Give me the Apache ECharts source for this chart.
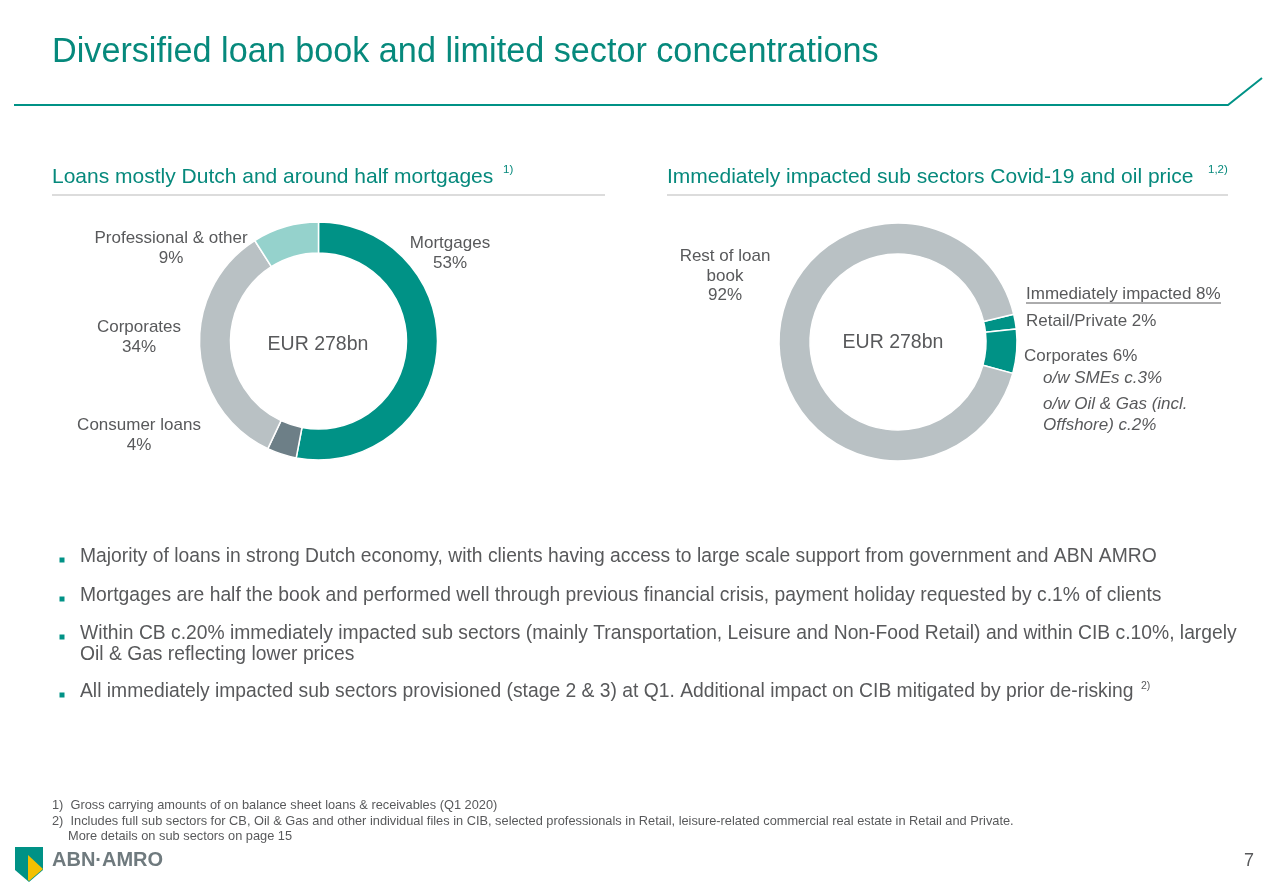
<!DOCTYPE html>
<html>
<head>
<meta charset="utf-8">
<script src="https://cdn.jsdelivr.net/npm/echarts@6/dist/echarts.min.js"></script>
<style>
html,body{margin:0;padding:0;background:#fff;}
#chart{width:1279px;height:886px;}
</style>
</head>
<body>
<div id="chart"></div>
<script>
// ---- data ----
const leftCategories = ['Mortgages', 'Consumer loans', 'Corporates', 'Professional & other'];
const leftValues = [53, 4, 34, 9];
const rightCategories = ['Retail/Private', 'Corporates', 'Rest of loan book'];
const rightValues = [2, 6, 92];
const totalLabel = 'EUR 278bn';
const impactedLabel = 'Immediately impacted 8%';
const corpSubLabels = ['o/w SMEs c.3%', 'o/w Oil & Gas (incl.', 'Offshore) c.2%'];
const titleText = 'Diversified loan book and limited sector concentrations';
const leftSubtitle = 'Loans mostly Dutch and around half mortgages';
const rightSubtitle = 'Immediately impacted sub sectors Covid-19 and oil price';
const bullets = [
  'Majority of loans in strong Dutch economy, with clients having access to large scale support from government and ABN AMRO',
  'Mortgages are half the book and performed well through previous financial crisis, payment holiday requested by c.1% of clients',
  'Within CB c.20% immediately impacted sub sectors (mainly Transportation, Leisure and Non-Food Retail) and within CIB c.10%, largely',
  'Oil & Gas reflecting lower prices',
  'All immediately impacted sub sectors provisioned (stage 2 & 3) at Q1. Additional impact on CIB mitigated by prior de-risking'
];
const footnotes = [
  '1)  Gross carrying amounts of on balance sheet loans & receivables (Q1 2020)',
  '2)  Includes full sub sectors for CB, Oil & Gas and other individual files in CIB, selected professionals in Retail, leisure-related commercial real estate in Retail and Private.',
  'More details on sub sectors on page 15'
];

// ---- styles ----
const TEAL = '#009286';
const TEXT_TEAL = '#06897c';
const GREY_TXT = '#58595b';
const FONT = '"Liberation Sans", Arial, sans-serif';
const leftColors = ['#009286', '#6d7f87', '#b9c1c4', '#95d2cc'];
const rightColors = ['#009286', '#009286', '#b9c1c4'];

function txt(x, y, text, size, color, opts) {
  opts = opts || {};
  return {
    type: 'text', x: x, y: y, silent: true,
    style: {
      text: text,
      font: (opts.italic ? 'italic ' : '') + (opts.bold ? 'bold ' : '') + size + 'px ' + FONT,
      fill: color,
      align: opts.align || 'left',
      verticalAlign: 'middle',
      lineHeight: opts.lineHeight || size * 1.2
    }
  };
}
function line(x1, y1, x2, y2, color, w) {
  return { type: 'line', silent: true, shape: { x1: x1, y1: y1, x2: x2, y2: y2 }, style: { stroke: color, lineWidth: w } };
}

const g = [];
// title & header rule
g.push(txt(52, 52.5, titleText, 34.2, TEXT_TEAL));
g.push({ type: 'polyline', silent: true, shape: { points: [[14, 105], [1228, 105], [1262, 78]] }, style: { stroke: TEAL, lineWidth: 2, fill: null } });
// subtitles
g.push(txt(52, 177, leftSubtitle, 21, TEXT_TEAL));
g.push(txt(503, 170, '1)', 11.5, TEXT_TEAL));
g.push(line(52, 195, 605, 195, '#dcdcdc', 2));
g.push(txt(667, 177, rightSubtitle, 21, TEXT_TEAL));
g.push(txt(1208, 170, '1,2)', 11.5, TEXT_TEAL));
g.push(line(667, 195, 1228, 195, '#dcdcdc', 2));

// left donut labels
g.push(txt(171, 248, leftCategories[3] + '\n' + leftValues[3] + '%', 17, GREY_TXT, { align: 'center', lineHeight: 20 }));
g.push(txt(450, 253, leftCategories[0] + '\n' + leftValues[0] + '%', 17, GREY_TXT, { align: 'center', lineHeight: 20 }));
g.push(txt(139, 337, leftCategories[2] + '\n' + leftValues[2] + '%', 17, GREY_TXT, { align: 'center', lineHeight: 20 }));
g.push(txt(139, 435, leftCategories[1] + '\n' + leftValues[1] + '%', 17, GREY_TXT, { align: 'center', lineHeight: 20 }));
g.push(txt(318, 345, totalLabel, 19.5, GREY_TXT, { align: 'center' }));

// right donut labels
g.push(txt(725, 276, 'Rest of loan\nbook\n' + rightValues[2] + '%', 17, GREY_TXT, { align: 'center', lineHeight: 19.5 }));
g.push(txt(893, 343, totalLabel, 19.5, GREY_TXT, { align: 'center' }));
g.push(txt(1026, 294, impactedLabel, 17, GREY_TXT));
g.push(line(1026, 303, 1221, 303, GREY_TXT, 1));
g.push(txt(1026, 321, rightCategories[0] + ' ' + rightValues[0] + '%', 17, GREY_TXT));
g.push(txt(1024, 356, rightCategories[1] + ' ' + rightValues[1] + '%', 17, GREY_TXT));
g.push(txt(1043, 378, corpSubLabels[0], 17, GREY_TXT, { italic: true }));
g.push(txt(1043, 404, corpSubLabels[1], 17, GREY_TXT, { italic: true }));
g.push(txt(1043, 425, corpSubLabels[2], 17, GREY_TXT, { italic: true }));

// bullets
const bulletY = [557, 596, 634, 655, 692];
const hasMarker = [true, true, true, false, true];
bullets.forEach(function (b, i) {
  if (hasMarker[i]) {
    g.push({ type: 'rect', silent: true, shape: { x: 59.5, y: bulletY[i] + 0.5, width: 5, height: 5 }, style: { fill: TEAL } });
  }
  g.push(txt(80, bulletY[i], b, 19.3, GREY_TXT));
});
g.push(txt(1141, 686, '2)', 10.5, GREY_TXT));

// footnotes
g.push(txt(52, 805, footnotes[0], 12.8, GREY_TXT));
g.push(txt(52, 821, footnotes[1], 12.8, GREY_TXT));
g.push(txt(68, 836, footnotes[2], 12.8, GREY_TXT));

// logo
g.push({ type: 'polygon', silent: true, shape: { points: [[15, 847], [43, 847], [43, 870], [29, 882], [15, 870]] }, style: { fill: '#009286' } });
g.push({ type: 'polygon', silent: true, shape: { points: [[28, 855], [43, 869], [29, 881], [28, 880]] }, style: { fill: '#f3c000' } });
g.push(txt(52, 860, 'ABN·AMRO', 20, '#6f7a7e', { bold: true }));
g.push(txt(1254, 861, '7', 18, GREY_TXT, { align: 'right' }));

const chart = echarts.init(document.getElementById('chart'), null, { renderer: 'canvas' });
chart.setOption({
  animation: false,
  backgroundColor: '#ffffff',
  graphic: { elements: g },
  series: [
    {
      type: 'pie',
      center: [318.5, 341],
      radius: [88, 119],
      startAngle: 90,
      clockwise: true,
      label: { show: false },
      labelLine: { show: false },
      emphasis: { disabled: true },
      itemStyle: { borderColor: '#fff', borderWidth: 1.5 },
      data: leftCategories.map(function (c, i) {
        return { name: c, value: leftValues[i], itemStyle: { color: leftColors[i] } };
      })
    },
    {
      type: 'pie',
      center: [898, 342],
      radius: [88, 119],
      startAngle: 13.5,
      clockwise: true,
      label: { show: false },
      labelLine: { show: false },
      emphasis: { disabled: true },
      itemStyle: { borderColor: '#fff', borderWidth: 1.5 },
      data: rightCategories.map(function (c, i) {
        return { name: c, value: rightValues[i], itemStyle: { color: rightColors[i] } };
      })
    }
  ]
});
</script>
</body>
</html>
